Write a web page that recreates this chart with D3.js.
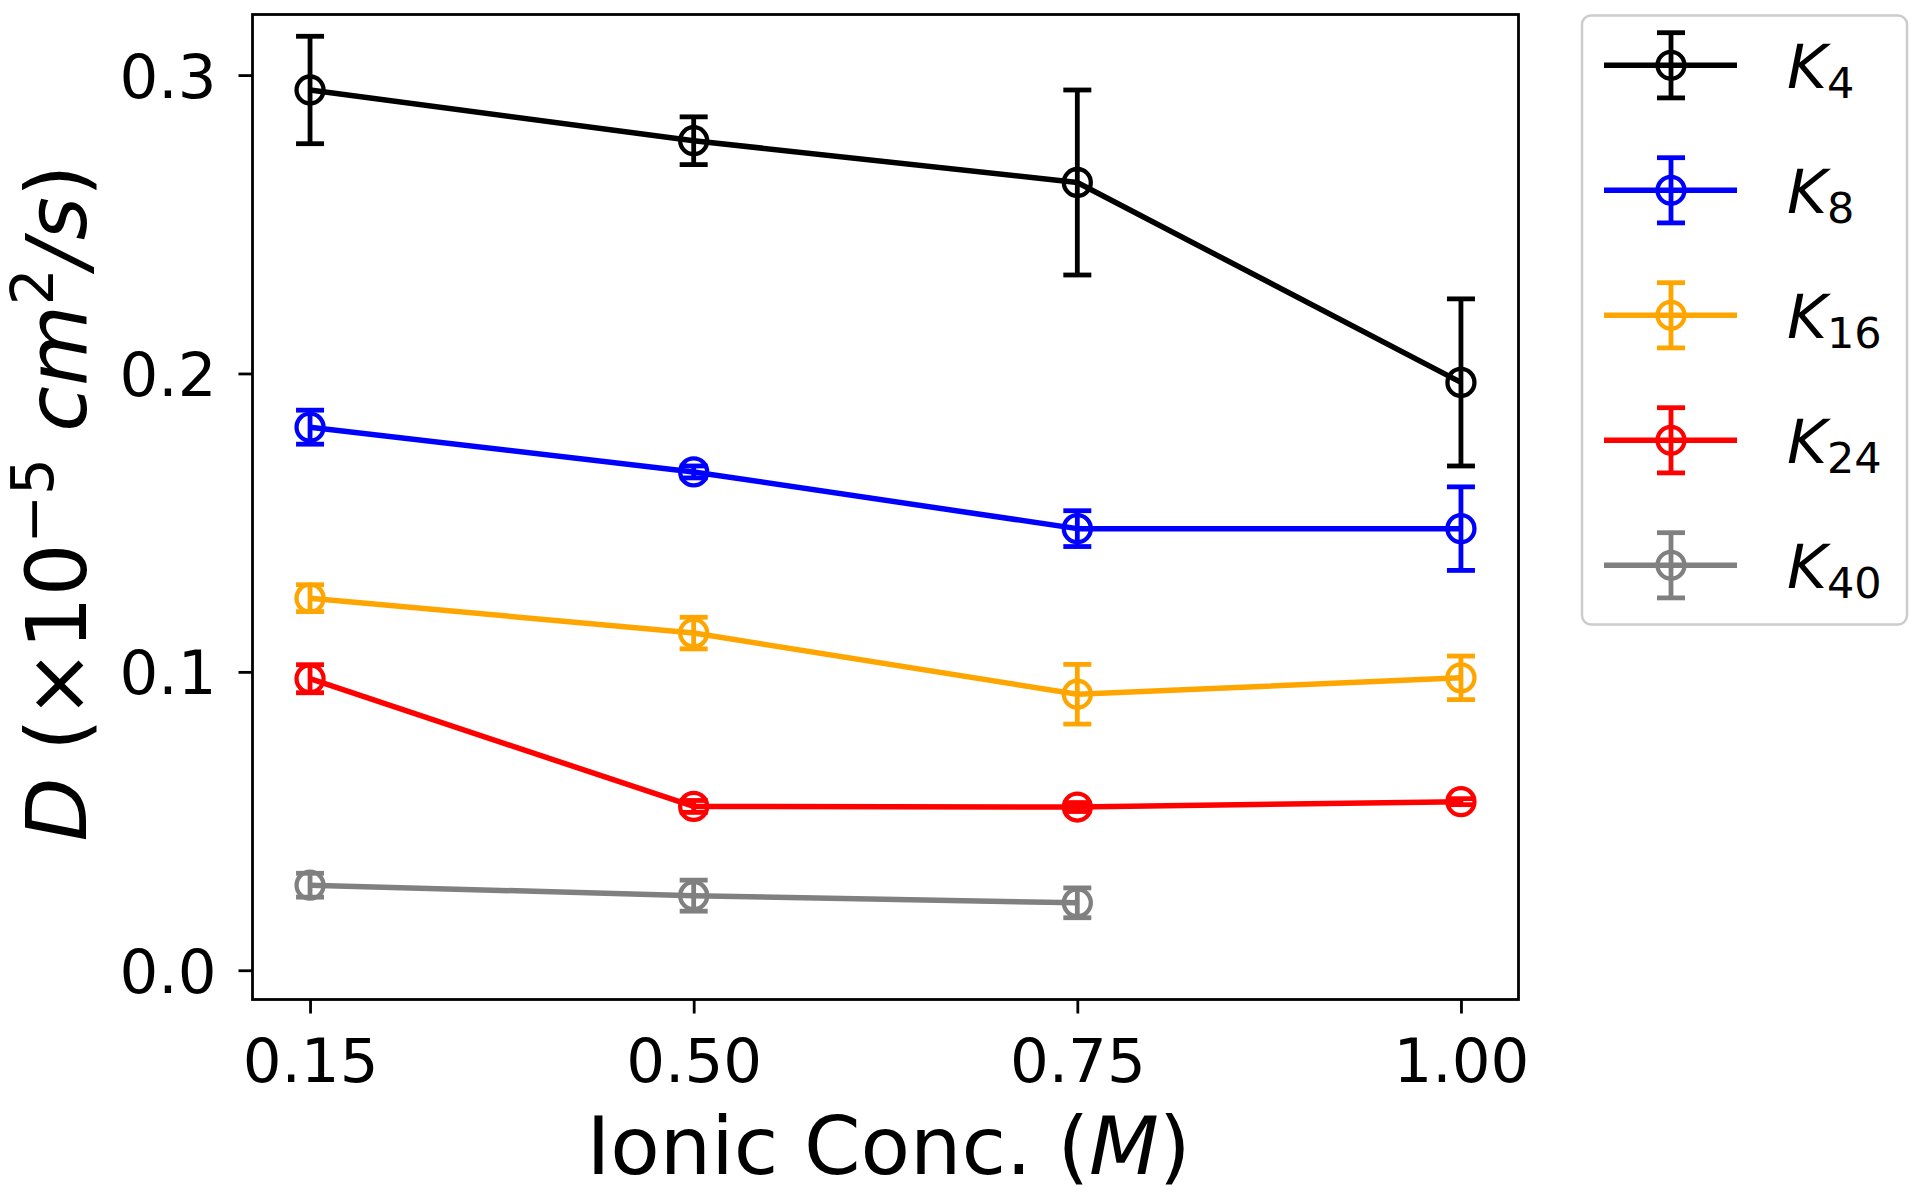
<!DOCTYPE html>
<html><head><meta charset="utf-8">
<script src="https://cdn.jsdelivr.net/npm/d3@7/dist/d3.min.js"></script>
<style>
body{margin:0;background:#fff;}
text{font-family:"DejaVu Sans";}
</style>
</head><body>
<svg id="chart" width="1920" height="1198"></svg>
<script>
// ---- data ----
const xLabels = ["0.15", "0.50", "0.75", "1.00"];
const seriesNames = ["4", "8", "16", "24", "40"];
const seriesColors = ["#000000", "#0000ff", "#ffa500", "#ff0000", "#808080"];
const k4 = [0.295, 0.278, 0.264, 0.197];
const k4Err = [0.018, 0.008, 0.031, 0.028];
const k8 = [0.182, 0.167, 0.148, 0.148];
const k8Err = [0.0057, 0.002, 0.006, 0.014];
const k16 = [0.1247, 0.113, 0.0925, 0.098];
const k16Err = [0.0045, 0.0053, 0.010, 0.0073];
const k24 = [0.0977, 0.0549, 0.0547, 0.0565];
const k24Err = [0.0047, 0.002, 0.0015, 0.001];
const k40 = [0.0285, 0.025, 0.0226];
const k40Err = [0.004, 0.0052, 0.005];
const yTicks = [0.0, 0.1, 0.2, 0.3];
const yTickLabels = ["0.0", "0.1", "0.2", "0.3"];

const seriesValues = [k4, k8, k16, k24, k40];
const seriesErrs = [k4Err, k8Err, k16Err, k24Err, k40Err];

// ---- layout ----
const L = 252.5, R = 1518.5, T = 14.5, B = 999.5;
const svg = d3.select("#chart");
const x = d3.scaleLinear().domain([-0.15, 3.15]).range([L, R]);
const y = d3.scaleLinear().domain([-0.0098, 0.3203]).range([B, T]);

const FONT = "DejaVu Sans";
const lineW = 5.5, errW = 4.8, markR = 13.5, markW = 4.3, capHalf = 14;

// axes
const xAxis = d3.axisBottom(x).tickValues([0,1,2,3]).tickFormat(i => xLabels[i]).tickSize(14).tickPadding(25);
const gx = svg.append("g").attr("transform", `translate(0,${B})`).call(xAxis);
gx.select(".domain").remove();
gx.selectAll(".tick line").attr("stroke", "#000").attr("stroke-width", 2.8);
gx.selectAll(".tick text").attr("font-family", FONT).attr("font-size", 61).attr("fill", "#000");

const yAxis = d3.axisLeft(y).tickValues(yTicks).tickFormat((d, i) => yTickLabels[i]).tickSize(14).tickPadding(22);
const gy = svg.append("g").attr("transform", `translate(${L},0)`).call(yAxis);
gy.select(".domain").remove();
gy.selectAll(".tick line").attr("stroke", "#000").attr("stroke-width", 2.8);
gy.selectAll(".tick text").attr("font-family", FONT).attr("font-size", 61).attr("fill", "#000").attr("dy", "0.36em");

// series
const line = d3.line().x((d, i) => x(i)).y(d => y(d));
seriesValues.forEach((vals, s) => {
  const col = seriesColors[s];
  const errs = seriesErrs[s];
  const g = svg.append("g");
  g.append("path").datum(vals).attr("d", line).attr("fill", "none")
    .attr("stroke", col).attr("stroke-width", lineW).attr("stroke-linejoin", "round");
  vals.forEach((v, i) => {
    const cx = x(i), e = errs[i];
    g.append("line").attr("x1", cx).attr("x2", cx).attr("y1", y(v - e)).attr("y2", y(v + e))
      .attr("stroke", col).attr("stroke-width", errW);
    [v - e, v + e].forEach(c => {
      g.append("line").attr("x1", cx - capHalf).attr("x2", cx + capHalf).attr("y1", y(c)).attr("y2", y(c))
        .attr("stroke", col).attr("stroke-width", errW);
    });
    g.append("circle").attr("cx", cx).attr("cy", y(v)).attr("r", markR)
      .attr("fill", "none").attr("stroke", col).attr("stroke-width", markW);
  });
});

// frame
svg.append("rect").attr("x", L).attr("y", T).attr("width", R - L).attr("height", B - T)
  .attr("fill", "none").attr("stroke", "#000").attr("stroke-width", 2.8);

// x label
const xl = svg.append("text").attr("x", (L + R) / 2 + 3).attr("y", 1174).attr("text-anchor", "middle")
  .attr("font-family", FONT).attr("font-size", 81).attr("fill", "#000");
xl.append("tspan").text("Ionic Conc. (");
xl.append("tspan").attr("font-style", "italic").text("M");
xl.append("tspan").text(")");

// y label
const yl = svg.append("text").attr("transform", `translate(86,${(T + B) / 2 - 4}) rotate(-90)`)
  .attr("text-anchor", "middle").attr("font-family", FONT).attr("font-size", 83).attr("fill", "#000");
yl.append("tspan").attr("font-style", "italic").text("D");
yl.append("tspan").text(" (×10");
yl.append("tspan").attr("font-size", 58).attr("dy", -33).text("−5");
yl.append("tspan").attr("dy", 33).text(" ");
yl.append("tspan").attr("font-style", "italic").text("cm");
yl.append("tspan").attr("font-size", 58).attr("dy", -33).text("2");
yl.append("tspan").attr("dy", 33).attr("font-style", "italic").text("/s");
yl.append("tspan").text(")");

// legend
const lg = svg.append("g");
lg.append("rect").attr("x", 1582).attr("y", 15.5).attr("width", 325).attr("height", 609).attr("rx", 9)
  .attr("fill", "#fff").attr("fill-opacity", 0.8).attr("stroke", "#cccccc").attr("stroke-width", 2.5);
const legY = d3.scaleLinear().domain([0, 4]).range([65.3, 565.3]);
seriesNames.forEach((nm, s) => {
  const col = seriesColors[s];
  const ly = legY(s);
  lg.append("line").attr("x1", 1604).attr("x2", 1737).attr("y1", ly).attr("y2", ly)
    .attr("stroke", col).attr("stroke-width", lineW);
  lg.append("line").attr("x1", 1671).attr("x2", 1671).attr("y1", ly - 32.6).attr("y2", ly + 32.6)
    .attr("stroke", col).attr("stroke-width", errW);
  [ly - 32.6, ly + 32.6].forEach(c => {
    lg.append("line").attr("x1", 1671 - capHalf).attr("x2", 1671 + capHalf).attr("y1", c).attr("y2", c)
      .attr("stroke", col).attr("stroke-width", errW);
  });
  lg.append("circle").attr("cx", 1671).attr("cy", ly).attr("r", markR)
    .attr("fill", "none").attr("stroke", col).attr("stroke-width", markW);
  const t = lg.append("text").attr("x", 1787).attr("y", ly + 22.5).attr("font-family", FONT)
    .attr("font-size", 61).attr("fill", "#000");
  t.append("tspan").attr("font-style", "italic").text("K");
  t.append("tspan").attr("font-size", 43).attr("dy", 10).text(nm);
});
</script>
</body></html>
